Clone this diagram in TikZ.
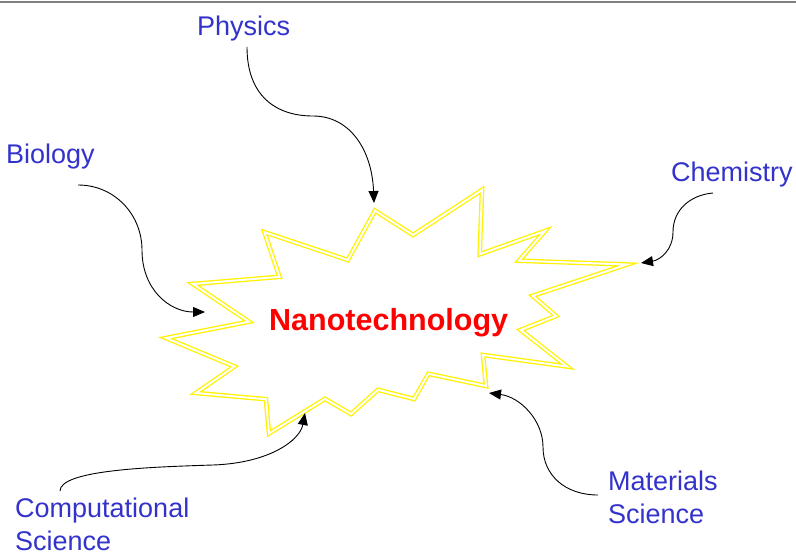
\documentclass[tikz,border=0pt]{standalone}
\usepackage{fontspec}
\setmainfont{Liberation Sans}
\usetikzlibrary{arrows.meta}
\definecolor{lblblue}{RGB}{51,51,204}
\definecolor{graybar}{RGB}{128,128,128}
\begin{document}
\begin{tikzpicture}[x=1pt,y=-1pt,
  lbl/.style={text=lblblue, font=\fontsize{27}{32.8}\selectfont, inner sep=0pt, anchor=base west, align=left},
  conn/.style={draw=black, line width=0.9pt, -{Triangle[length=12pt,width=10pt]}},
  burst/.style={draw=yellow, double=white, line width=1.3pt, double distance=2pt, line join=miter}]
\useasboundingbox (0,0) rectangle (796,552);
\fill[white] (0,0) rectangle (796,552);
\draw[graybar, line width=2pt] (0,2) -- (796,2);
% burst
\draw[burst] (375,210.6) -- (413,235) -- (482,190) -- (479.7,254.3) -- (545,231) -- (519,260.7) -- (627,264.5) -- (532.6,295.8) -- (556,316) -- (520.6,330) -- (567,366.5) -- (483,355) -- (486,386) -- (428.4,373.8) -- (414,399) -- (378,389.8) -- (351,414) -- (325,398.9) -- (269,433.5) -- (265.9,399.2) -- (196,393) -- (234.4,366.5) -- (166,338) -- (249,321.7) -- (193,284) -- (279.5,276.8) -- (264.4,232.2) -- (347.8,260) -- cycle;
\node[inner sep=0pt, anchor=base west, text=red, font=\fontsize{30.5}{34}\selectfont\bfseries] (nano) at (269,330) {Nanotechnology};
% labels
\node[lbl] (phys) at (197,35) {Physics};
\node[lbl] (bio) at (6,163) {Biology};
\node[lbl] (chem) at (671,181) {Chemistry};
\node[lbl] (mat) at (608,523) {Materials\\Science};
\node[lbl] (comp) at (15,550) {Computational\\Science};
% connector ends
\coordinate (physS) at (247,47);
\coordinate (physE) at (374,203);
\coordinate (bioS) at (78,185);
\coordinate (bioE) at (205,312);
\coordinate (chemS) at (713,193);
\coordinate (chemE) at (641,263);
\coordinate (matS) at (598,495);
\coordinate (matE) at (489,393);
\coordinate (compS) at (60,491);
\coordinate (compE) at (305,413);
\draw[conn] (physS) .. controls (247,95) and (275,116) .. (313,116) .. controls (350,116) and (372,150) .. (physE);
\draw[conn] (bioS) .. controls (115,185) and (142,215) .. (142,250) .. controls (142,290) and (170,312) .. (bioE);
\draw[conn] (chemS) .. controls (690,195) and (673,210) .. (673,232) .. controls (673,250) and (660,260) .. (chemE);
\draw[conn] (matS) .. controls (565,495) and (543,475) .. (543,447) .. controls (543,420) and (520,397) .. (matE);
\draw[conn] (compS) .. controls (60,470) and (150,467) .. (213,465) .. controls (270,463) and (300,440) .. (compE);
\end{tikzpicture}
\end{document}
